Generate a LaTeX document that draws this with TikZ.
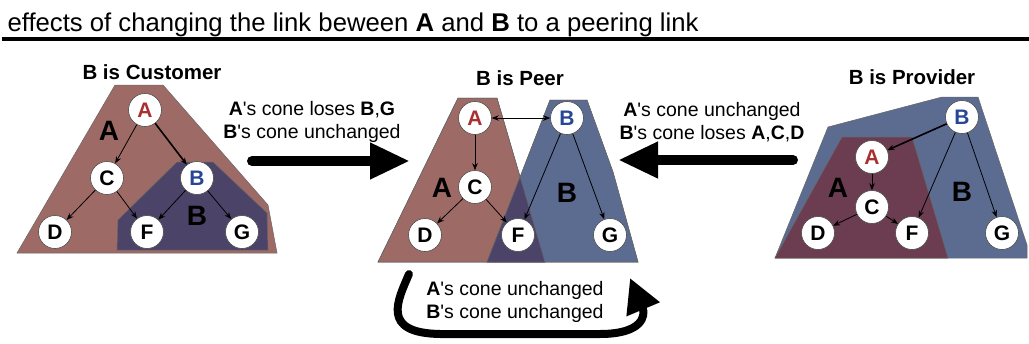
\documentclass[tikz,border=0pt]{standalone}
\usepackage{fontspec}
\setmainfont{Liberation Sans}
\usetikzlibrary{arrows.meta, positioning}
\definecolor{conebrown}{RGB}{158,106,102}
\definecolor{conepurple}{RGB}{76,68,104}
\definecolor{coneblue}{RGB}{92,108,145}
\definecolor{conemaroon}{RGB}{108,60,80}
\definecolor{asred}{RGB}{168,48,48}
\definecolor{asblue}{RGB}{40,70,150}
\tikzset{
    as node/.style = {circle, draw=black!70, fill=white, line width=.6pt, minimum size=33pt, inner sep=0pt, font=\fontsize{21}{21}\selectfont\bfseries},
    cone/.style = {draw=black!60, line width=.5pt},
    cone label/.style = {font=\fontsize{28}{28}\selectfont\bfseries},
}
\tikzset{
    link/.style = {draw, -{Stealth[length=7pt,width=5.5pt]}, line width=.8pt},
    thick link/.style = {link, line width=1.6pt},
    peer link/.style = {draw, line width=.8pt, {Stealth[length=7pt,width=5.5pt]}-{Stealth[length=7pt,width=5.5pt]}},
    big arrow/.style = {draw, line width=10pt, line cap=round, -{Triangle[length=40pt,width=34pt]}},
    curve arrow/.style = {draw, line width=8pt, line cap=round, -{Triangle[length=34pt,width=34pt]}},
    panel title/.style = {font=\fontsize{20.5}{20.5}\selectfont\bfseries},
    change note/.style = {align=center, font=\fontsize{19.5}{23}\selectfont},
}
\newcommand{\cone}[1]{\textbf{#1}\textquotesingle s cone}

\begin{document}
\begin{tikzpicture}[x=1pt, y=-1pt]
    \useasboundingbox (0,0) rectangle (1029,343);

    \node[anchor=base west, font=\fontsize{25.7}{25.7}\selectfont] (title) at (4,31) {effects of changing the link beween \textbf{A} and \textbf{B} to a peering link};
    \draw[line width=4pt] (2,39) -- (1029,39);

    % B is customer
    \node[panel title] (cust) at (152,72) {B is Customer};
    \fill[conebrown, cone] (115,85) -- (163,85) -- (268,205) -- (277,253) -- (17,253) -- cycle;
    \fill[conepurple, cone] (177,162) -- (213,162) -- (267,213) -- (268,250) -- (117,250) -- (118,220) -- cycle;
    \node[cone label] (A1 cone) at (109,131) {A};
    \node[cone label] (B1 cone) at (197,216) {B};

    \node[as node, text=asred] (A1) at (145,110) {A};
    \node[as node] (C1) at (107,178) {C};
    \node[as node, text=asblue] (B1) at (197,178) {B};
    \node[as node] (D1) at (55,232) {D};
    \node[as node] (F1) at (147,232) {F};
    \node[as node] (G1) at (242,232) {G};

    \draw[link] (A1) -- (C1);
    \draw[thick link] (A1) -- (B1);
    \draw[link] (C1) -- (D1);
    \draw[link] (C1) -- (F1);
    \draw[link] (B1) -- (F1);
    \draw[link] (B1) -- (G1);

    % B is peer
    \node[panel title] (peer) at (520,78) {B is Peer};
    \fill[conebrown, cone] (458,98) -- (497,98) -- (545,262) -- (378,262) -- cycle;
    \fill[coneblue, cone] (550,100) -- (587,100) -- (613,172) -- (638,262) -- (487,262) -- cycle;
    \begin{scope}
        \clip (458,98) -- (497,98) -- (545,262) -- (378,262) -- cycle;
        \fill[conepurple] (550,100) -- (587,100) -- (613,172) -- (638,262) -- (487,262) -- cycle;
    \end{scope}
    \draw[cone] (458,98) -- (497,98) -- (545,262) -- (378,262) -- cycle;
    \draw[cone] (550,100) -- (587,100) -- (613,172) -- (638,262) -- (487,262) -- cycle;
    \node[cone label] (A2 cone) at (442,188) {A};
    \node[cone label] (B2 cone) at (567,193) {B};

    \node[as node, text=asred] (A2) at (475,118) {A};
    \node[as node, text=asblue] (B2) at (567,118) {B};
    \node[as node] (C2) at (475,187) {C};
    \node[as node] (D2) at (425,235) {D};
    \node[as node] (F2) at (518,235) {F};
    \node[as node] (G2) at (610,235) {G};

    \draw[peer link] (A2) -- (B2);
    \draw[link] (A2) -- (C2);
    \draw[link] (C2) -- (D2);
    \draw[link] (C2) -- (F2);
    \draw[link] (B2) -- (F2);
    \draw[link] (B2) -- (G2);

    % B is provider
    \node[panel title] (prov) at (912,77) {B is Provider};
    \fill[coneblue, cone] (828,127) -- (942,97) -- (978,97) -- (1027,245) -- (1027,258) -- (775,258) -- cycle;
    \fill[conemaroon, cone] (842,137) -- (912,137) -- (948,258) -- (775,258) -- cycle;
    \node[cone label] (A3 cone) at (838,188) {A};
    \node[cone label] (B3 cone) at (962,192) {B};

    \node[as node, text=asblue] (B3) at (962,117) {B};
    \node[as node, text=asred] (A3) at (872,157) {A};
    \node[as node] (C3) at (872,207) {C};
    \node[as node] (D3) at (818,233) {D};
    \node[as node] (F3) at (912,233) {F};
    \node[as node] (G3) at (1002,233) {G};

    \draw[thick link] (B3) -- (A3);
    \draw[link] (A3) -- (C3);
    \draw[link] (C3) -- (D3);
    \draw[link] (C3) -- (F3);
    \draw[link] (B3) -- (F3);
    \draw[link] (B3) -- (G3);

    % changes between the cases
    \node[change note] (to peer) at (312,122) {\cone{A} loses \textbf{B},\textbf{G}\\\cone{B} unchanged};
    \node[change note] (from prov) at (712,122) {\cone{A} unchanged\\\cone{B} loses \textbf{A},\textbf{C},\textbf{D}};
    \node[change note] (stay peer) at (515,302) {\cone{A} unchanged\\\cone{B} unchanged};

    \coordinate (cust out) at (252,161);
    \coordinate (peer in left) at (410,161);
    \coordinate (prov out) at (793,160);
    \coordinate (peer in right) at (618,160);
    \coordinate (peer out) at (409,274);
    \coordinate (peer back) at (630,278);

    \draw[big arrow] (cust out) -- (peer in left);
    \draw[big arrow] (prov out) -- (peer in right);
    \draw[curve arrow] (peer out) .. controls (398,300) and (380,333) .. (440,334) -- (600,334) .. controls (642,334) and (646,316) .. (peer back);
\end{tikzpicture}
\end{document}
